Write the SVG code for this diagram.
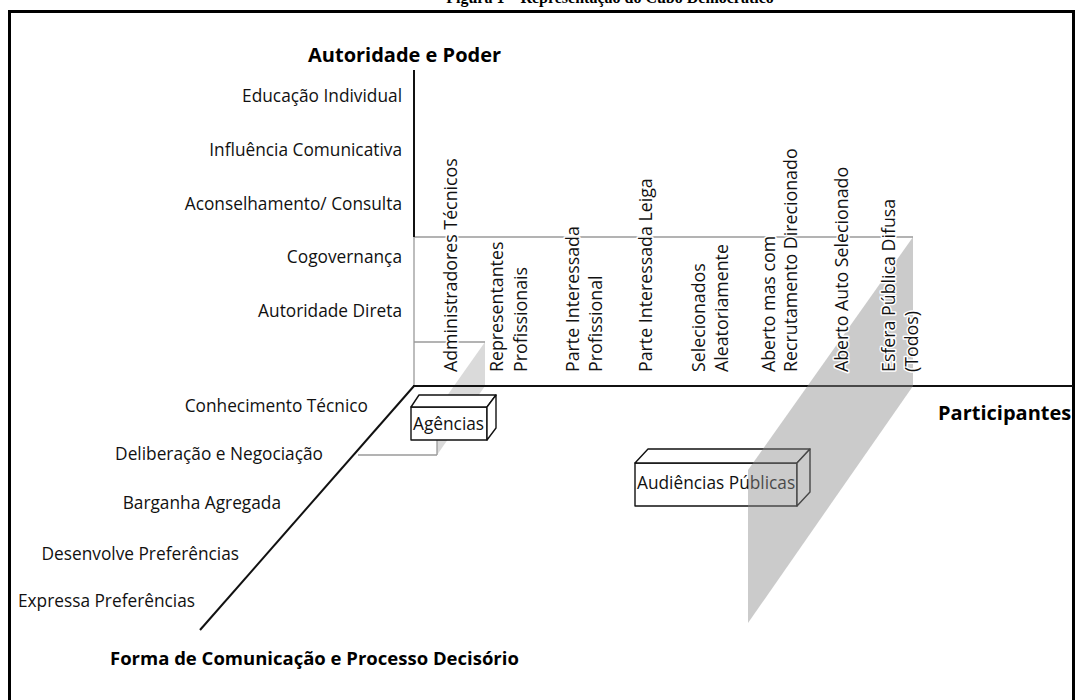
<svg xmlns="http://www.w3.org/2000/svg" width="1082" height="700" viewBox="0 0 1082 700">
<style>
  .lbl { font-family: "Open Sans", "Noto Sans", sans-serif; font-size: 17.3px; fill: #111; }
  .col { font-family: "Open Sans", "Noto Sans", sans-serif; font-size: 17.8px; fill: #111; paint-order: stroke; stroke: #fff; stroke-width: 3px; stroke-linejoin: round; }
  .ttl { font-family: "Open Sans", "Noto Sans", sans-serif; font-size: 20px; font-weight: bold; fill: #000; }
  .ttl.small { font-size: 18.5px; }
  .box { fill: #fff; stroke: #111; stroke-width: 1.4; stroke-linejoin: round; }
  .thin { stroke: #9a9a9a; stroke-width: 1.3; fill: none; }
  .axis { stroke: #111; stroke-width: 2; fill: none; }
</style>
<rect width="1082" height="700" fill="#fff"/>
<text x="610" y="3" text-anchor="middle" font-family="Liberation Serif, serif" font-weight="bold" font-size="16">Figura 1 – Representação do Cubo Democrático</text>
<rect x="9.5" y="11.5" width="1064" height="720" fill="none" stroke="#000" stroke-width="3"/>

<g id="planes">
  <polygon points="485,342 485,386 437,455 437,410" fill="#dadada"/>
</g>

<g id="connectors">
  <line class="thin" x1="414" y1="237" x2="913" y2="237"/>
  <line class="thin" x1="414" y1="237" x2="414" y2="386"/>
  <line class="thin" x1="414" y1="342" x2="485" y2="342" stroke="#b5b5b5"/>
  <line class="thin" x1="358" y1="455" x2="437" y2="455" stroke="#b5b5b5"/>
  <line class="thin" x1="437" y1="410" x2="437" y2="455" stroke="#b5b5b5"/>
  <line class="axis" x1="414" y1="70" x2="414" y2="237" stroke="#333"/>
  <line class="axis" x1="413" y1="386" x2="1073" y2="386"/>
  <line class="axis" x1="414" y1="386" x2="200" y2="630" stroke-width="1.6"/>
</g>

<g id="agencias">
  <rect class="box" x="411" y="407" width="76" height="33"/>
  <polygon class="box" points="411,407 419,395 496,395 487,407"/>
  <polygon class="box" points="487,407 496,395 496,428 487,440"/>
  <text class="lbl" x="413" y="430">Agências</text>
</g>

<g id="audiencias">
  <rect class="box" x="635" y="463" width="162" height="43"/>
  <polygon class="box" points="635,463 648,449 810,449 797,463"/>
  <polygon class="box" points="797,463 810,449 810,492 797,506"/>
  <text class="lbl" x="637" y="489">Audiências Públicas</text>
</g>

<g id="esfera-plane">
  <polygon points="913,237 913,386 748,623 748,470" fill="#8c8c8c" fill-opacity="0.45"/>
</g>

<g id="axis-titles">
  <text class="ttl" x="308" y="62">Autoridade e Poder</text>
  <text class="ttl" x="938" y="420">Participantes</text>
  <text class="ttl small" x="110" y="665">Forma de Comunicação e Processo Decisório</text>
</g>

<g id="authority-levels" text-anchor="end">
  <text class="lbl" x="402" y="102">Educação Individual</text>
  <text class="lbl" x="402" y="156">Influência Comunicativa</text>
  <text class="lbl" x="402" y="210">Aconselhamento/ Consulta</text>
  <text class="lbl" x="402" y="263">Cogovernança</text>
  <text class="lbl" x="402" y="317">Autoridade Direta</text>
</g>

<g id="communication-levels" text-anchor="end">
  <text class="lbl" x="368" y="412">Conhecimento Técnico</text>
  <text class="lbl" x="323" y="460">Deliberação e Negociação</text>
  <text class="lbl" x="281" y="509">Barganha Agregada</text>
  <text class="lbl" x="239" y="560">Desenvolve Preferências</text>
  <text class="lbl" x="195" y="607">Expressa Preferências</text>
</g>

<g id="participants">
  <text class="col" transform="translate(457,372) rotate(-90)">Administradores Técnicos</text>
  <text class="col" transform="translate(503,372) rotate(-90)">Representantes</text>
  <text class="col" transform="translate(527,372) rotate(-90)">Profissionais</text>
  <text class="col" transform="translate(579,372) rotate(-90)">Parte Interessada</text>
  <text class="col" transform="translate(602,372) rotate(-90)">Profissional</text>
  <text class="col" transform="translate(652,372) rotate(-90)">Parte Interessada Leiga</text>
  <text class="col" transform="translate(705,372) rotate(-90)">Selecionados</text>
  <text class="col" transform="translate(728,372) rotate(-90)">Aleatoriamente</text>
  <text class="col" transform="translate(775,372) rotate(-90)">Aberto mas com</text>
  <text class="col" transform="translate(797,372) rotate(-90)">Recrutamento Direcionado</text>
  <text class="col" transform="translate(848,372) rotate(-90)">Aberto Auto Selecionado</text>
  <text class="col" transform="translate(895,372) rotate(-90)">Esfera Pública Difusa</text>
  <text class="col" transform="translate(918,372) rotate(-90)">(Todos)</text>
</g>
</svg>
